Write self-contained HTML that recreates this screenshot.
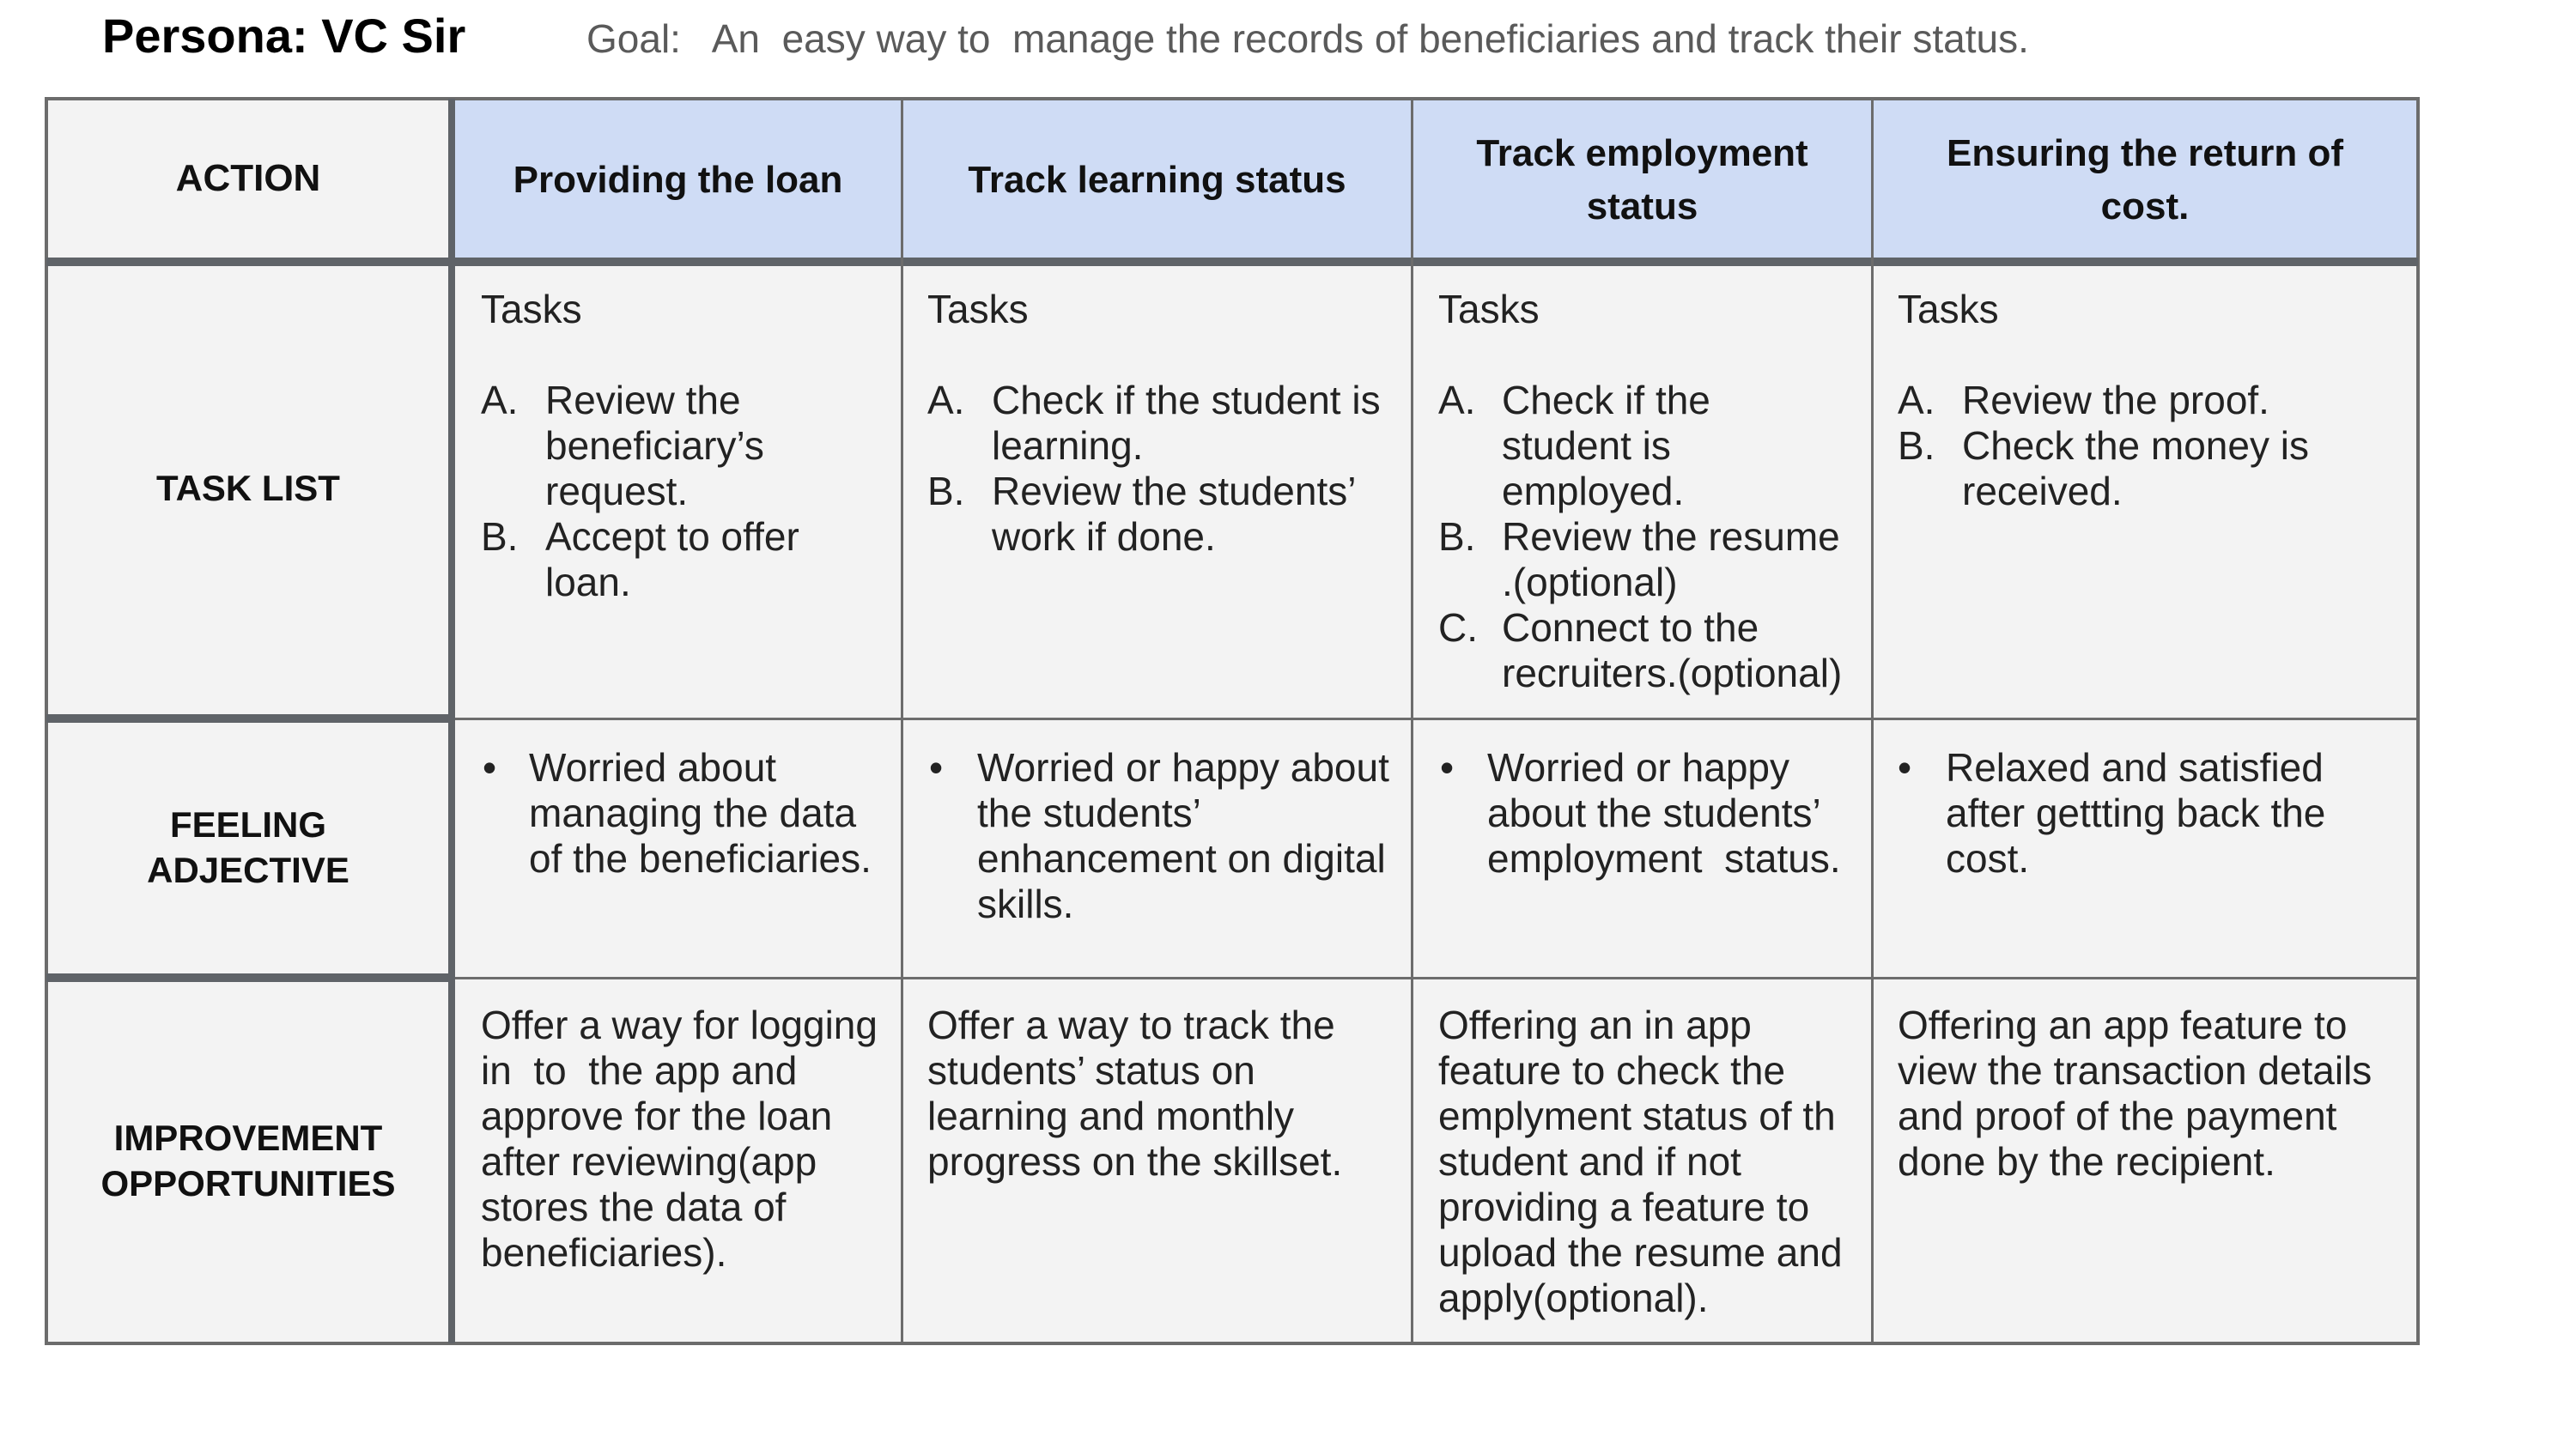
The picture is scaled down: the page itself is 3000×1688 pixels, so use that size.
<!DOCTYPE html>
<html><head><meta charset="utf-8"><style>
*{margin:0;padding:0;box-sizing:border-box}
body{width:3000px;height:1688px;background:#fff;position:relative;overflow:hidden;font-family:"Liberation Sans",sans-serif;color:#1f1f1f}
.a{position:absolute}
.ln{position:absolute;background:#6c6c6c}
.t{position:absolute;font-size:46px;line-height:53px;white-space:nowrap;color:#222}
.h{position:absolute;font-size:44px;line-height:62px;font-weight:bold;text-align:center;color:#111;display:flex;align-items:center;justify-content:center}
.lbl{position:absolute;font-size:42px;line-height:53px;font-weight:bold;text-align:center;color:#111}
</style></head><body>
<div class="a" style="left:119px;top:10px;font-size:56px;font-weight:bold;line-height:64px;color:#000">Persona: VC Sir</div>
<div class="a" style="left:683px;top:18px;font-size:46px;line-height:54px;color:#5a5a5a;white-space:pre">Goal:   An  easy way to  manage the records of beneficiaries and track their status.</div>

<div class="a" style="left:54px;top:115px;width:2762px;height:1450px;background:#f3f3f3"></div>
<div class="a" style="left:530px;top:115px;width:2286px;height:185px;background:#cfdcf5"></div>

<!-- lines -->
<div class="ln" style="left:52px;top:113px;width:2766px;height:4px"></div>
<div class="ln" style="left:52px;top:113px;width:4px;height:1454px"></div>
<div class="ln" style="left:2814px;top:113px;width:4px;height:1454px"></div>
<div class="ln" style="left:52px;top:1563px;width:2766px;height:4px"></div>
<div class="ln" style="left:54px;top:300px;width:2762px;height:10px;background:#5f6368"></div>
<div class="ln" style="left:522px;top:115px;width:8px;height:1450px;background:#5f6368"></div>
<div class="ln" style="left:1049px;top:115px;width:3px;height:1450px"></div>
<div class="ln" style="left:1643px;top:115px;width:3px;height:1450px"></div>
<div class="ln" style="left:2179px;top:115px;width:3px;height:1450px"></div>
<div class="ln" style="left:54px;top:832px;width:476px;height:10px;background:#5f6368"></div>
<div class="ln" style="left:530px;top:836px;width:2286px;height:3px"></div>
<div class="ln" style="left:54px;top:1134px;width:476px;height:10px;background:#5f6368"></div>
<div class="ln" style="left:530px;top:1138px;width:2286px;height:3px"></div>

<!-- headers -->
<div class="h" style="left:56px;top:115px;width:466px;height:185px;font-size:44px">ACTION</div>
<div class="h" style="left:530px;top:115px;width:519px;height:190px">Providing the loan</div>
<div class="h" style="left:1052px;top:115px;width:591px;height:190px">Track learning status</div>
<div class="h" style="left:1646px;top:115px;width:533px;height:190px">Track employment<br>status</div>
<div class="h" style="left:2182px;top:115px;width:632px;height:190px">Ensuring the return of<br>cost.</div>

<!-- row labels -->
<div class="lbl" style="left:56px;top:542px;width:466px">TASK LIST</div>
<div class="lbl" style="left:56px;top:934px;width:466px">FEELING<br>ADJECTIVE</div>
<div class="lbl" style="left:56px;top:1299px;width:466px">IMPROVEMENT<br>OPPORTUNITIES</div>

<!-- Tasks row -->
<div class="t" style="left:560px;top:334px">Tasks</div>
<div class="t" style="left:560px;top:440px">A.<br><br><br>B.</div>
<div class="t" style="left:635px;top:440px">Review the<br>beneficiary’s<br>request.<br>Accept to offer<br>loan.</div>

<div class="t" style="left:1080px;top:334px">Tasks</div>
<div class="t" style="left:1080px;top:440px">A.<br><br>B.</div>
<div class="t" style="left:1155px;top:440px">Check if the student is<br>learning.<br>Review the students’<br>work if done.</div>

<div class="t" style="left:1675px;top:334px">Tasks</div>
<div class="t" style="left:1675px;top:440px">A.<br><br><br>B.<br><br>C.</div>
<div class="t" style="left:1749px;top:440px">Check if the<br>student is<br>employed.<br>Review the resume<br>.(optional)<br>Connect to the<br>recruiters.(optional)</div>

<div class="t" style="left:2210px;top:334px">Tasks</div>
<div class="t" style="left:2210px;top:440px">A.<br>B.</div>
<div class="t" style="left:2285px;top:440px">Review the proof.<br>Check the money is<br>received.</div>

<!-- Feeling row -->
<div class="t" style="left:562px;top:868px">•</div>
<div class="t" style="left:616px;top:868px">Worried about<br>managing the data<br>of the beneficiaries.</div>
<div class="t" style="left:1082px;top:868px">•</div>
<div class="t" style="left:1138px;top:868px">Worried or happy about<br>the students’<br>enhancement on digital<br>skills.</div>
<div class="t" style="left:1677px;top:868px">•</div>
<div class="t" style="left:1732px;top:868px">Worried or happy<br>about the students’<br>employment&nbsp; status.</div>
<div class="t" style="left:2210px;top:868px">•</div>
<div class="t" style="left:2266px;top:868px">Relaxed and satisfied<br>after gettting back the<br>cost.</div>

<!-- Improvement row -->
<div class="t" style="left:560px;top:1168px">Offer a way for logging<br>in&nbsp; to&nbsp; the app and<br>approve for the loan<br>after reviewing(app<br>stores the data of<br>beneficiaries).</div>
<div class="t" style="left:1080px;top:1168px">Offer a way to track the<br>students’ status on<br>learning and monthly<br>progress on the skillset.</div>
<div class="t" style="left:1675px;top:1168px">Offering an in app<br>feature to check the<br>emplyment status of th<br>student and if not<br>providing a feature to<br>upload the resume and<br>apply(optional).</div>
<div class="t" style="left:2210px;top:1168px">Offering an app feature to<br>view the transaction details<br>and proof of the payment<br>done by the recipient.</div>
</body></html>
